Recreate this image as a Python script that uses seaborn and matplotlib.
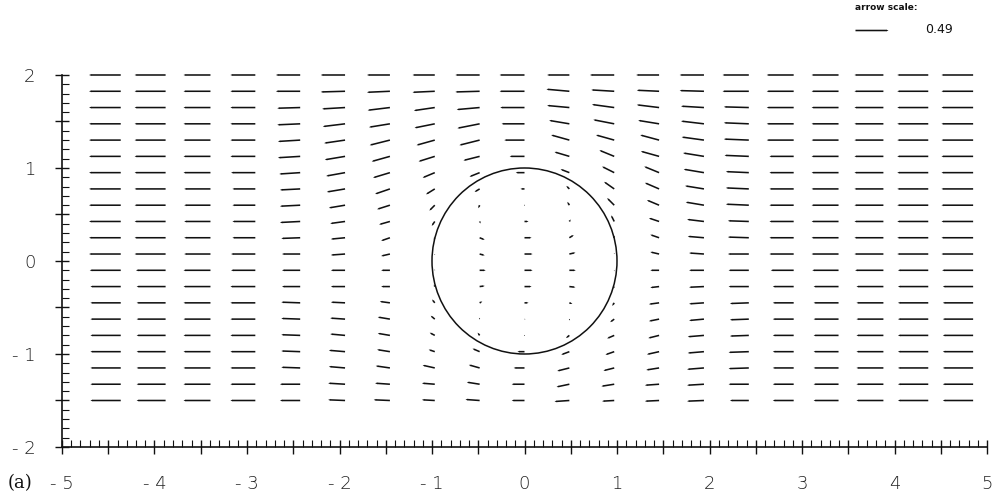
import numpy as np
import matplotlib
matplotlib.use("Agg")
import matplotlib.pyplot as plt
import seaborn as sns
from matplotlib.patches import Circle
from matplotlib.ticker import MultipleLocator, FuncFormatter

# ---- grid of the vector field ----
x_cols = [-4.365, -3.88, -3.395, -2.91, -2.425, -1.94, -1.455, -0.97, -0.485, 0.0,
          0.485, 0.97, 1.455, 1.94, 2.425, 2.91, 3.395, 3.88, 4.365, 4.85]
y_rows = [2.0, 1.825, 1.65, 1.475, 1.3, 1.125, 0.95, 0.775, 0.6, 0.425, 0.25,
          0.075, -0.1, -0.275, -0.45, -0.625, -0.8, -0.975, -1.15, -1.325, -1.5]

# ---- horizontal velocity component (one list per row, top to bottom) ----
u_rows = [
    [-0.47,-0.46,-0.40,-0.37,-0.36,-0.36,-0.34,-0.33,-0.36,-0.37,-0.33,-0.36,-0.34,-0.36,-0.39,-0.40,-0.40,-0.43,-0.46,-0.47],
    [-0.47,-0.46,-0.40,-0.37,-0.36,-0.36,-0.34,-0.33,-0.36,-0.37,-0.34,-0.34,-0.33,-0.36,-0.39,-0.40,-0.40,-0.43,-0.46,-0.47],
    [-0.47,-0.46,-0.40,-0.37,-0.34,-0.34,-0.33,-0.31,-0.34,-0.36,-0.33,-0.33,-0.33,-0.34,-0.37,-0.40,-0.40,-0.43,-0.46,-0.47],
    [-0.47,-0.46,-0.40,-0.37,-0.34,-0.33,-0.31,-0.30,-0.33,-0.34,-0.30,-0.31,-0.31,-0.34,-0.37,-0.40,-0.40,-0.43,-0.46,-0.47],
    [-0.47,-0.46,-0.40,-0.37,-0.33,-0.31,-0.30,-0.27,-0.30,-0.30,-0.27,-0.27,-0.28,-0.33,-0.37,-0.40,-0.40,-0.43,-0.46,-0.47],
    [-0.47,-0.46,-0.40,-0.37,-0.33,-0.30,-0.27,-0.24,-0.24,-0.22,-0.22,-0.22,-0.27,-0.31,-0.36,-0.36,-0.40,-0.43,-0.46,-0.47],
    [-0.47,-0.46,-0.40,-0.36,-0.31,-0.28,-0.25,-0.18,-0.15,-0.13,-0.13,-0.18,-0.22,-0.30,-0.34,-0.36,-0.40,-0.43,-0.46,-0.47],
    [-0.47,-0.46,-0.39,-0.34,-0.30,-0.27,-0.22,-0.13,-0.075,-0.06,-0.045,-0.15,-0.21,-0.28,-0.34,-0.36,-0.40,-0.43,-0.46,-0.47],
    [-0.47,-0.46,-0.39,-0.34,-0.30,-0.24,-0.19,-0.08,-0.02,-0.01,-0.03,-0.105,-0.18,-0.27,-0.34,-0.36,-0.40,-0.43,-0.46,-0.47],
    [-0.47,-0.46,-0.39,-0.34,-0.30,-0.22,-0.16,-0.045,0.015,0.06,0.02,-0.045,-0.15,-0.25,-0.31,-0.36,-0.40,-0.43,-0.46,-0.47],
    [-0.47,-0.46,-0.39,-0.34,-0.28,-0.21,-0.13,-0.015,0.075,0.105,0.065,-0.015,-0.13,-0.24,-0.31,-0.36,-0.40,-0.43,-0.46,-0.47],
    [-0.47,-0.46,-0.39,-0.36,-0.27,-0.21,-0.13,0.0,0.075,0.12,0.09,0.0,-0.13,-0.22,-0.31,-0.36,-0.40,-0.43,-0.46,-0.47],
    [-0.46,-0.44,-0.40,-0.36,-0.27,-0.21,-0.13,0.0,0.09,0.12,0.095,0.0,-0.13,-0.22,-0.30,-0.34,-0.39,-0.42,-0.45,-0.46],
    [-0.45,-0.43,-0.40,-0.37,-0.27,-0.21,-0.13,-0.015,0.075,0.105,0.09,-0.015,-0.13,-0.22,-0.30,-0.31,-0.37,-0.40,-0.45,-0.45],
    [-0.45,-0.43,-0.40,-0.37,-0.28,-0.21,-0.15,-0.04,0.04,0.06,0.045,-0.03,-0.15,-0.22,-0.28,-0.31,-0.37,-0.40,-0.45,-0.45],
    [-0.45,-0.43,-0.40,-0.37,-0.28,-0.22,-0.18,-0.06,-0.01,0.015,0.01,-0.06,-0.15,-0.22,-0.28,-0.31,-0.37,-0.40,-0.45,-0.45],
    [-0.45,-0.43,-0.40,-0.37,-0.28,-0.22,-0.18,-0.075,-0.03,-0.01,-0.05,-0.105,-0.16,-0.24,-0.28,-0.31,-0.37,-0.40,-0.45,-0.45],
    [-0.45,-0.43,-0.40,-0.37,-0.28,-0.24,-0.19,-0.09,-0.105,-0.105,-0.12,-0.13,-0.18,-0.24,-0.30,-0.31,-0.37,-0.40,-0.45,-0.45],
    [-0.45,-0.43,-0.40,-0.37,-0.28,-0.24,-0.21,-0.18,-0.16,-0.16,-0.18,-0.16,-0.19,-0.25,-0.30,-0.31,-0.37,-0.40,-0.45,-0.45],
    [-0.45,-0.43,-0.40,-0.37,-0.30,-0.25,-0.22,-0.19,-0.19,-0.19,-0.19,-0.19,-0.21,-0.25,-0.30,-0.31,-0.37,-0.40,-0.45,-0.45],
    [-0.45,-0.43,-0.40,-0.37,-0.30,-0.25,-0.24,-0.19,-0.21,-0.19,-0.22,-0.18,-0.21,-0.25,-0.28,-0.31,-0.37,-0.40,-0.45,-0.45],
]

# ---- vertical velocity component ----
v_rows = [
    [0,0,0,0,0,0,0,0,0,0,0,0,0,0,0,0,0,0,0,0],
    [0,0,0,0,0,-0.01,-0.015,-0.015,-0.01,0,0.03,0.02,0.015,0.01,0,0,0,0,0,0],
    [0,0,0,0,-0.01,-0.02,-0.04,-0.045,-0.03,0,0.03,0.045,0.04,0.02,0.01,0,0,0,0,0],
    [0,0,0,0,-0.015,-0.04,-0.05,-0.06,-0.065,0,0.05,0.06,0.05,0.04,0.015,0,0,0,0,0],
    [0,0,0,0,-0.02,-0.045,-0.075,-0.075,-0.075,0,0.075,0.075,0.075,0.045,0.015,0,0,0,0,0],
    [0,0,0,0,-0.02,-0.05,-0.075,-0.075,-0.06,0,0.065,0.09,0.075,0.05,0.015,0,0,0,0,0],
    [0,0,0,0,-0.02,-0.05,-0.075,-0.075,-0.06,0,0.05,0.09,0.09,0.05,0.015,0,0,0,0,0],
    [0,0,0,0,-0.015,-0.045,-0.075,-0.08,-0.045,0,0.045,0.105,0.09,0.045,0.015,0,0,0,0,0],
    [0,0,0,0,-0.015,-0.04,-0.06,-0.08,-0.045,0,0.05,0.105,0.075,0.045,0.015,0,0,0,0,0],
    [0,0,0,0,-0.015,-0.03,-0.045,-0.065,-0.03,0,0.03,0.09,0.05,0.03,0.01,0,0,0,0,0],
    [0,0,0,0,-0.01,-0.02,-0.045,-0.03,-0.03,0,0.04,0.045,0.045,0.02,0.01,0,0,0,0,0],
    [0,0,0,0,0,-0.015,-0.03,-0.015,-0.02,0,0.02,0.015,0.03,0.015,0,0,0,0,0,0],
    [0,0,0,0,0,0,0,0.015,0,0,0,-0.015,0,0,0,0,0,0,0,0],
    [0,0,0,0,0,0,0,0.03,0.01,0,-0.01,-0.03,-0.015,-0.01,0,0,0,0,0,0],
    [0,0,0,0,0.01,0.01,0.02,0.05,0.02,0,-0.015,-0.045,-0.02,-0.015,-0.01,0,0,0,0,0],
    [0,0,0,0,0.01,0.015,0.03,0.05,0.02,0,-0.02,-0.045,-0.03,-0.02,-0.01,0,0,0,0,0],
    [0,0,0,0,0.01,0.02,0.03,0.04,0.04,0,-0.04,-0.045,-0.04,-0.02,-0.01,0,0,0,0,0],
    [0,0,0,0,0.01,0.02,0.03,0.03,0.045,0,-0.045,-0.045,-0.04,-0.02,-0.01,0,0,0,0,0],
    [0,0,0,0,0.01,0.02,0.03,0.04,0.045,0,-0.045,-0.04,-0.03,-0.02,-0.01,0,0,0,0,0],
    [0,0,0,0,0,0.015,0.015,0.015,0.03,0,-0.04,-0.03,-0.015,-0.015,0,0,0,0,0,0],
    [0,0,0,0,0,0.01,0.01,0.01,0.015,0,-0.015,-0.01,-0.01,-0.01,0,0,0,0,0,0],
]

x_ticks = [-5, -4, -3, -2, -1, 0, 1, 2, 3, 4, 5]
y_ticks = [-2, -1, 0, 1, 2]
key_value = 0.49
key_label = "0.49"
key_title = "arrow scale:"
panel_label = "(a)"
circle_radius = 1.0

sns.set_style("ticks")
plt.rcParams["font.family"] = ["DejaVu Sans"]
plt.rcParams["axes.unicode_minus"] = False

fig = plt.figure(figsize=(10, 4.96), dpi=100)
ax = fig.add_axes([0.062, 0.0988, 0.925, 0.75])

X, Y = np.meshgrid(x_cols, y_rows)
q = ax.quiver(X, Y, np.array(u_rows), np.array(v_rows),
              pivot="tail", angles="xy", scale_units="xy", scale=1.373,
              width=0.0017, headwidth=1.3, headlength=1.6, headaxislength=1.5,
              minlength=0.6, color="#111111", zorder=3)
q.set_clip_on(False)

ax.add_patch(Circle((0, 0), circle_radius, fill=False, lw=1.1, ec="#111111", zorder=2))

ax.set_xlim(-5, 5)
ax.set_ylim(-2, 2)
sns.despine(ax=ax)
for s in ("left", "bottom"):
    ax.spines[s].set_linewidth(1.2)
    ax.spines[s].set_color("#111111")


def fmt(v, pos):
    if abs(v - round(v)) < 1e-6:
        n = int(round(v))
        return f"- {abs(n)}" if n < 0 else f"{n}"
    return ""


for axis in (ax.xaxis, ax.yaxis):
    axis.set_major_locator(MultipleLocator(0.5))
    axis.set_minor_locator(MultipleLocator(0.1))
    axis.set_major_formatter(FuncFormatter(fmt))

ax.tick_params(which="major", direction="inout", length=10, width=1.0,
               color="#111111", labelsize=13, labelcolor="#222222")
ax.tick_params(axis="x", which="major", pad=15)
ax.tick_params(axis="y", which="major", pad=14)
ax.tick_params(which="minor", direction="in", length=5, width=0.8, color="#111111")
for lab in ax.get_xticklabels() + ax.get_yticklabels():
    lab.set_fontweight("light")

ax.quiverkey(q, 0.888, 0.94, key_value, " ", labelpos="E", coordinates="figure",
             color="#111111")
fig.text(0.925, 0.94, key_label, fontsize=9, va="center", ha="left", color="#111111")
fig.text(0.855, 0.984, key_title, fontsize=6.5, fontweight="bold", va="center",
         ha="left", color="#111111")
fig.text(0.008, 1 - 483 / 496, panel_label, fontsize=13, va="center", ha="left",
         family=["DejaVu Serif"], color="#111111")

fig.savefig("out.png", dpi=100)
